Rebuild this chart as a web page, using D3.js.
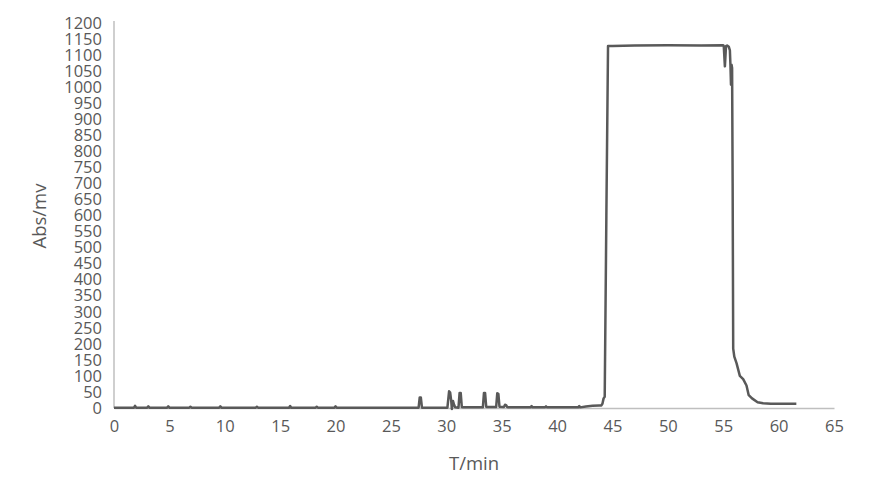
<!DOCTYPE html>
<html>
<head>
<meta charset="utf-8">
<script src="https://cdn.jsdelivr.net/npm/d3@7"></script>
<style>
  body { margin: 0; background: #fff; }
  svg text { font-family: "Open Sans", "Liberation Sans", sans-serif; fill: #595959; }
</style>
</head>
<body>
<svg id="chart" width="871" height="501"></svg>
<script>
// chromatogram: time (min) and absorbance (mV)
var times = [0, 1.8, 1.9, 2.0, 3.0, 3.1, 3.2, 4.8, 4.9, 5.0, 6.8, 6.9, 7.0, 9.5, 9.6, 9.7,
  12.8, 12.9, 13.0, 15.8, 15.9, 16.0, 18.2, 18.3, 18.4, 19.9, 20.0, 20.1,
  27.5, 27.6, 27.7, 27.8,
  30.1, 30.25, 30.35, 30.45, 30.5, 30.6, 30.7, 30.8, 31.1, 31.2, 31.3, 31.4, 31.5,
  33.3, 33.4, 33.5, 33.6, 33.7, 34.5, 34.6, 34.7, 34.8, 35.2, 35.3, 35.4, 35.5, 35.6,
  37.6, 37.7, 37.8, 38.9, 39.0, 39.1, 41.9, 42.0, 42.1, 42.6, 43.2, 43.8, 44.0, 44.1,
  44.2, 44.3, 44.45, 44.6, 45, 47, 50, 53, 55.0, 55.05, 55.15, 55.25, 55.35, 55.5,
  55.6, 55.65, 55.7, 55.75, 55.8, 55.85, 55.9, 56.0, 56.2, 56.5, 56.8, 57.1, 57.3,
  57.6, 58.1, 58.6, 59.3, 60.3, 61.6];
var absorb = [1, 1, 7, 1, 1, 5, 1, 1, 5, 1, 1, 4, 1, 1, 5, 1,
  1, 4, 1, 1, 6, 1, 1, 4, 1, 1, 5, 1,
  1, 33, 33, 1,
  1, 52, 48, 20, -3, 22, 10, 2, 1, 47, 47, 3, 2,
  2, 47, 47, 4, 3, 3, 46, 44, 4, 3, 10, 9, 3, 2,
  2, 6, 2, 2, 5, 2, 2, 6, 2, 5, 7, 8, 8, 14,
  30, 35, 600, 1128, 1128, 1130, 1131, 1130, 1131, 1128, 1065, 1128, 1130, 1126,
  1115, 1070, 1008, 1070, 1060, 700, 185, 160, 140, 100, 90, 70, 40,
  30, 18, 15, 13, 13, 13];
var xTicks = d3.range(0, 66, 5);
var yTicks = d3.range(0, 1201, 50);

var svg = d3.select('#chart');
var plotLeft = 114, plotRight = 834, plotTop = 23, plotBottom = 408;

var x = d3.scaleLinear().domain([0, 65]).range([plotLeft, plotRight]);
var y = d3.scaleLinear().domain([0, 1200]).range([plotBottom, plotTop]);

//axes
var xAxis = svg.append('g')
    .attr('transform', 'translate(0,' + plotBottom + ')')
    .call(d3.axisBottom(x).tickValues(xTicks).tickSize(0).tickPadding(12).tickFormat(d3.format('d')));
var yAxis = svg.append('g')
    .attr('transform', 'translate(' + plotLeft + ',0)')
    .call(d3.axisLeft(y).tickValues(yTicks).tickSize(0).tickPadding(12).tickFormat(d3.format('d')));
[xAxis, yAxis].forEach(function(a) {
    a.select('.domain').attr('stroke', '#bfbfbf').attr('stroke-width', 1.5);
    a.selectAll('text').attr('font-size', '16.5px').attr('fill', '#595959')
        .attr('font-family', '"Open Sans", sans-serif');
});
yAxis.select('.domain').remove();
yAxis.append('line')
    .attr('x1', 0).attr('x2', 0)
    .attr('y1', y(1200) - 2).attr('y2', plotBottom)
    .attr('stroke', '#bfbfbf').attr('stroke-width', 1.5);

var pts = times.map(function(t, i) { return [t, absorb[i]]; });
var line = d3.line()
    .x(function(d) { return x(d[0]); })
    .y(function(d) { return y(d[1]); });

svg.append('path')
    .datum(pts)
    .attr('d', line)
    .attr('fill', 'none')
    .attr('stroke', '#595959')
    .attr('stroke-width', 2.5)
    .attr('stroke-linejoin', 'round');

//axis titles
svg.append('text')
    .attr('x', 474).attr('y', 470)
    .attr('text-anchor', 'middle')
    .attr('font-size', '18.5px')
    .text('T/min');
svg.append('text')
    .attr('transform', 'translate(46,216) rotate(-90)')
    .attr('text-anchor', 'middle')
    .attr('font-size', '18.5px')
    .text('Abs/mv');
</script>
</body>
</html>
